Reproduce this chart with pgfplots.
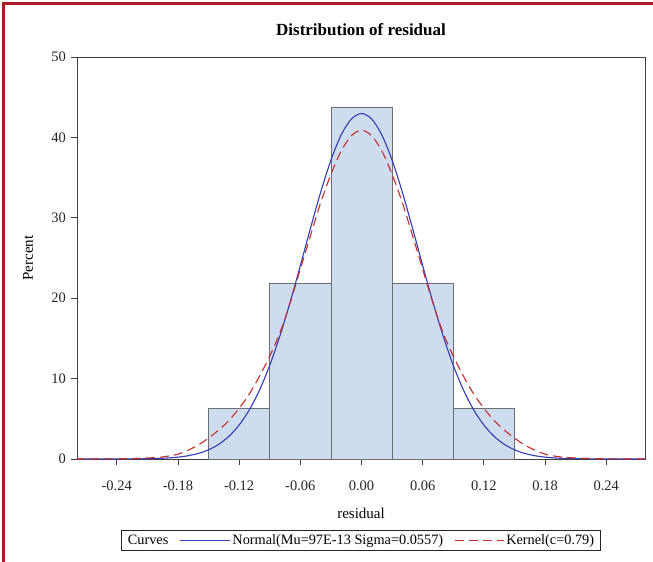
\documentclass[border=0pt]{standalone}
\usepackage{pgfplots}
\pgfplotsset{compat=1.18}
\usepackage{fontspec}
\setmainfont{Liberation Serif}
\definecolor{barfill}{RGB}{205,221,239}
\definecolor{baredge}{RGB}{110,110,110}
\definecolor{normblue}{RGB}{50,60,180}
\definecolor{kernred}{RGB}{200,45,45}
\definecolor{framered}{RGB}{175,25,35}
\definecolor{axframe}{RGB}{70,60,60}
\pgfplotsset{
  longline/.style={legend image code/.code={\draw[##1] (0bp,0bp) -- (50bp,0bp);}},
  longdash/.style={legend image code/.code={\draw[##1] (0bp,0bp) -- (49bp,0bp);}},
}
\begin{document}
\begin{tikzpicture}
\useasboundingbox (-77bp,-103bp) rectangle (576bp,459bp);
\fill[white] (-77bp,-103bp) rectangle (576bp,459bp);
\begin{axis}[
  name=ax,
  at={(0,0)}, anchor=south west,
  scale only axis,
  width=568bp, height=402bp,
  xmin=-0.279, xmax=0.278,
  ymin=0, ymax=50,
  axis line style={axframe, line width=0.9bp},
  tick style={axframe, line width=0.9bp},
  tick align=outside,
  major tick length=6bp,
  xtick pos=bottom, ytick pos=left,
  xtick={-0.24,-0.18,-0.12,-0.06,0,0.06,0.12,0.18,0.24},
  xticklabels={-0.24,-0.18,-0.12,-0.06,0.00,0.06,0.12,0.18,0.24},
  ytick={0,10,20,30,40,50},
  yticklabels={0,10,20,30,40,50},
  ticklabel style={font=\fontsize{14.5bp}{17bp}\selectfont, text=black!85},
  xticklabel style={yshift=-12bp},
  yticklabel style={xshift=-1.5bp},
  xlabel={residual},
  label style={font=\fontsize{15bp}{18bp}\selectfont},
  xlabel style={at={(0.5,0)}, anchor=center, yshift=-54bp},
  legend columns=-1,
  legend style={at={(0.5,0)}, anchor=north, yshift=-71bp,
    draw=black!85, line width=0.8bp, font=\fontsize{14.3bp}{16bp}\selectfont,
    inner xsep=4bp, inner ysep=2.5bp,
    /tikz/every even column/.append style={column sep=9bp}},
  legend cell align=left,
]
\addplot[ybar interval, fill=barfill, draw=baredge, line width=0.8bp, forget plot]
  coordinates {(-0.15,6.25) (-0.09,21.875) (-0.03,43.75) (0.03,21.875) (0.09,6.25) (0.15,6.25)};
\addlegendimage{empty legend}
\addlegendentry{Curves\hspace{14bp}}
\addplot[normblue, line width=1.1bp, smooth, longline]
  coordinates {
  (-0.28,0) (-0.26,0.0008) (-0.24,0.004) (-0.22,0.018) (-0.21,0.035) (-0.20,0.068)
  (-0.19,0.128) (-0.18,0.232) (-0.17,0.408) (-0.16,0.694) (-0.15,1.144) (-0.14,1.825)
  (-0.13,2.821) (-0.12,4.220) (-0.11,6.113) (-0.10,8.575) (-0.09,11.65) (-0.08,15.32)
  (-0.07,19.51) (-0.06,24.05) (-0.05,28.72) (-0.04,33.20) (-0.03,37.17) (-0.02,40.29)
  (-0.01,42.28) (0,42.97)
  (0.01,42.28) (0.02,40.29) (0.03,37.17) (0.04,33.20) (0.05,28.72) (0.06,24.05)
  (0.07,19.51) (0.08,15.32) (0.09,11.65) (0.10,8.575) (0.11,6.113) (0.12,4.220)
  (0.13,2.821) (0.14,1.825) (0.15,1.144) (0.16,0.694) (0.17,0.408) (0.18,0.232)
  (0.19,0.128) (0.20,0.068) (0.21,0.035) (0.22,0.018) (0.24,0.004) (0.26,0.0008) (0.28,0)
  };
\addlegendentry{Normal(Mu=97E-13 Sigma=0.0557)}
\addplot[kernred, line width=1.1bp, smooth, dash pattern=on 9bp off 5bp, longdash]
  coordinates {
  (-0.28,0) (-0.26,0.005) (-0.24,0.02) (-0.22,0.07) (-0.20,0.2) (-0.19,0.35)
  (-0.18,0.6) (-0.17,1.1) (-0.16,1.75) (-0.15,2.6) (-0.14,3.6) (-0.13,4.8)
  (-0.12,6.3) (-0.11,8.1) (-0.10,10.3) (-0.09,12.8) (-0.08,15.7) (-0.07,19.4)
  (-0.06,23.6) (-0.05,27.8) (-0.04,31.9) (-0.03,35.4) (-0.02,38.3) (-0.01,40.2) (0,40.9)
  (0.01,40.2) (0.02,38.3) (0.03,35.4) (0.04,31.9) (0.05,27.8) (0.06,23.6)
  (0.07,19.4) (0.08,15.7) (0.09,12.8) (0.10,10.3) (0.11,8.1) (0.12,6.3)
  (0.13,4.8) (0.14,3.6) (0.15,2.6) (0.16,1.75) (0.17,1.1) (0.18,0.6)
  (0.19,0.35) (0.20,0.2) (0.22,0.07) (0.24,0.02) (0.26,0.005) (0.28,0)
  };
\addlegendentry{Kernel(c=0.79)}
\end{axis}
\node[font=\bfseries\fontsize{17bp}{20bp}\selectfont] at ([yshift=27bp]ax.north) {Distribution of residual};
\node[font=\fontsize{15bp}{18bp}\selectfont, rotate=90] at (-49bp,201bp) {Percent};
\draw[framered, line width=3bp] (-73.5bp,-103bp) -- (-73.5bp,455.5bp) -- (576bp,455.5bp);
\end{tikzpicture}
\end{document}
